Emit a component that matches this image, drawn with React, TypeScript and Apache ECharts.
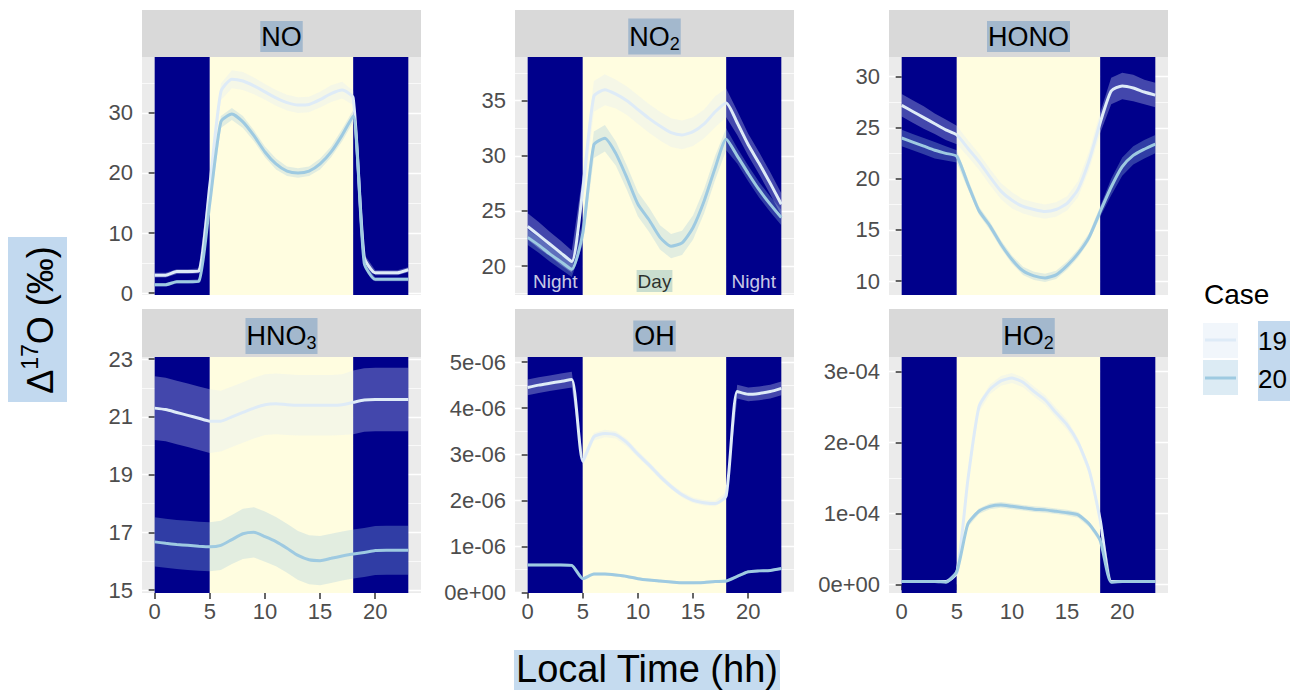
import React, { useEffect, useRef } from 'react';
import * as echarts from 'echarts';

// ---------------- data ----------------
const hours = [0, 1, 2, 3, 4, 5, 6, 7, 8, 9, 10, 11, 12, 13, 14, 15, 16, 17, 18, 19, 20, 21, 22, 23];
const xTicks = [0, 5, 10, 15, 20];
const periods: [number, number, string][] = [[0, 5, 'night'], [5, 18, 'day'], [18, 23, 'night']];
const caseNames = ['19', '20'];

const noCase19 = [3.0, 3.0, 3.6, 3.6, 3.7, 18.0, 33.5, 35.6, 35.3, 34.5, 33.5, 32.5, 31.7, 31.3, 31.4, 32.2, 33.2, 33.8, 32.5, 6.0, 3.4, 3.4, 3.4, 3.9];
const noCase20 = [1.4, 1.4, 1.9, 1.9, 2.0, 15.0, 28.5, 29.8, 28.5, 26.2, 23.5, 21.5, 20.3, 20.0, 20.3, 21.5, 23.5, 26.3, 29.5, 5.0, 2.3, 2.3, 2.3, 2.3];
const noErr19 = [0.4, 0.4, 0.4, 0.4, 0.4, 1.0, 1.4, 1.5, 1.5, 1.4, 1.3, 1.3, 1.3, 1.3, 1.3, 1.3, 1.4, 1.4, 1.2, 0.5, 0.4, 0.4, 0.4, 0.4];
const noErr20 = [0.3, 0.3, 0.3, 0.3, 0.3, 0.8, 1.0, 1.0, 1.0, 0.9, 0.9, 0.9, 0.8, 0.8, 0.8, 0.9, 0.9, 1.0, 1.0, 0.4, 0.3, 0.3, 0.3, 0.3];

const no2Case19 = [23.6, 22.8, 22.0, 21.2, 20.4, 27.0, 35.4, 36.0, 35.6, 35.0, 34.2, 33.4, 32.7, 32.1, 31.9, 32.2, 32.9, 34.0, 34.8, 33.0, 31.0, 29.3, 27.5, 25.6];
const no2Case20 = [22.6, 21.9, 21.1, 20.4, 19.7, 23.0, 31.0, 31.6, 30.2, 28.0, 25.6, 24.2, 22.6, 21.8, 22.1, 23.5, 25.9, 28.9, 31.5, 30.0, 28.4, 26.9, 25.6, 24.4];
const no2Err19 = [1.2, 1.2, 1.1, 1.1, 1.0, 1.3, 1.4, 1.4, 1.3, 1.3, 1.3, 1.3, 1.3, 1.3, 1.3, 1.3, 1.3, 1.4, 1.3, 1.1, 1.0, 1.0, 1.0, 1.0];
const no2Err20 = [0.7, 0.7, 0.7, 0.7, 0.7, 1.0, 1.2, 1.2, 1.1, 1.1, 1.1, 1.1, 1.1, 1.1, 1.1, 1.1, 1.1, 1.1, 1.0, 0.7, 0.7, 0.7, 0.7, 0.7];

const honoCase19 = [27.2, 26.6, 26.0, 25.4, 24.8, 24.3, 23.0, 21.7, 20.2, 18.8, 17.9, 17.3, 17.0, 16.8, 17.0, 17.6, 19.0, 21.8, 25.5, 28.6, 29.1, 28.9, 28.5, 28.2];
const honoCase20 = [24.0, 23.6, 23.2, 22.8, 22.5, 22.2, 19.5, 16.9, 15.4, 13.6, 12.1, 11.0, 10.5, 10.3, 10.6, 11.5, 12.7, 14.3, 16.8, 19.2, 21.2, 22.3, 22.9, 23.4];
const honoErr19 = [1.1, 1.1, 1.1, 1.0, 1.0, 0.9, 0.8, 0.8, 0.8, 0.8, 0.8, 0.7, 0.7, 0.7, 0.7, 0.7, 0.8, 0.9, 1.0, 1.3, 1.3, 1.3, 1.2, 1.2];
const honoErr20 = [0.8, 0.8, 0.8, 0.8, 0.7, 0.6, 0.5, 0.4, 0.4, 0.4, 0.4, 0.4, 0.4, 0.4, 0.4, 0.4, 0.4, 0.4, 0.5, 0.8, 0.9, 0.9, 0.9, 0.9];

const hno3Case19 = [21.3, 21.25, 21.15, 21.05, 20.95, 20.85, 20.85, 21.0, 21.15, 21.3, 21.42, 21.45, 21.42, 21.4, 21.4, 21.4, 21.4, 21.42, 21.5, 21.58, 21.6, 21.6, 21.6, 21.6];
const hno3Case20 = [16.67, 16.62, 16.58, 16.55, 16.52, 16.5, 16.55, 16.75, 16.95, 17.0, 16.85, 16.68, 16.45, 16.2, 16.05, 16.02, 16.1, 16.18, 16.25, 16.3, 16.37, 16.38, 16.38, 16.38];
const hno3Err19 = [1.1, 1.1, 1.1, 1.1, 1.1, 1.1, 1.05, 1.05, 1.05, 1.05, 1.05, 1.05, 1.05, 1.05, 1.05, 1.05, 1.05, 1.05, 1.1, 1.1, 1.1, 1.1, 1.1, 1.1];
const hno3Err20 = [0.85, 0.85, 0.85, 0.85, 0.85, 0.85, 0.85, 0.85, 0.87, 0.87, 0.87, 0.85, 0.85, 0.85, 0.85, 0.85, 0.85, 0.85, 0.85, 0.85, 0.85, 0.85, 0.85, 0.85];

const ohCase19 = [4.45e-6, 4.5e-6, 4.54e-6, 4.58e-6, 4.62e-6, 2.85e-6, 3.38e-6, 3.45e-6, 3.42e-6, 3.25e-6, 3.0e-6, 2.77e-6, 2.52e-6, 2.3e-6, 2.12e-6, 2.0e-6, 1.95e-6, 1.93e-6, 2.1e-6, 4.36e-6, 4.3e-6, 4.32e-6, 4.36e-6, 4.43e-6];
const ohCase20 = [0.6e-6, 0.6e-6, 0.6e-6, 0.6e-6, 0.59e-6, 0.3e-6, 0.4e-6, 0.4e-6, 0.38e-6, 0.35e-6, 0.3e-6, 0.27e-6, 0.25e-6, 0.23e-6, 0.21e-6, 0.21e-6, 0.22e-6, 0.24e-6, 0.25e-6, 0.35e-6, 0.45e-6, 0.47e-6, 0.48e-6, 0.52e-6];
const ohErr19 = [0.17e-6, 0.17e-6, 0.17e-6, 0.17e-6, 0.17e-6, 0.1e-6, 0.08e-6, 0.08e-6, 0.08e-6, 0.08e-6, 0.07e-6, 0.07e-6, 0.07e-6, 0.06e-6, 0.06e-6, 0.06e-6, 0.06e-6, 0.06e-6, 0.08e-6, 0.15e-6, 0.15e-6, 0.15e-6, 0.15e-6, 0.15e-6];
const ohErr20 = [0.03e-6, 0.03e-6, 0.03e-6, 0.03e-6, 0.03e-6, 0.03e-6, 0.03e-6, 0.03e-6, 0.03e-6, 0.03e-6, 0.03e-6, 0.03e-6, 0.03e-6, 0.03e-6, 0.03e-6, 0.03e-6, 0.03e-6, 0.03e-6, 0.03e-6, 0.03e-6, 0.03e-6, 0.03e-6, 0.03e-6, 0.03e-6];

const ho2Case19 = [0.04e-4, 0.04e-4, 0.04e-4, 0.04e-4, 0.04e-4, 0.16e-4, 1.47e-4, 2.5e-4, 2.75e-4, 2.87e-4, 2.91e-4, 2.85e-4, 2.72e-4, 2.6e-4, 2.42e-4, 2.25e-4, 2.0e-4, 1.61e-4, 0.91e-4, 0.04e-4, 0.04e-4, 0.04e-4, 0.04e-4, 0.04e-4];
const ho2Case20 = [0.04e-4, 0.04e-4, 0.04e-4, 0.04e-4, 0.03e-4, 0.18e-4, 0.85e-4, 1.03e-4, 1.1e-4, 1.12e-4, 1.1e-4, 1.08e-4, 1.06e-4, 1.05e-4, 1.03e-4, 1.01e-4, 0.98e-4, 0.85e-4, 0.62e-4, 0.03e-4, 0.04e-4, 0.04e-4, 0.04e-4, 0.04e-4];
const ho2Err19 = [0.01e-4, 0.01e-4, 0.01e-4, 0.01e-4, 0.01e-4, 0.03e-4, 0.06e-4, 0.07e-4, 0.07e-4, 0.07e-4, 0.07e-4, 0.07e-4, 0.07e-4, 0.07e-4, 0.07e-4, 0.07e-4, 0.06e-4, 0.06e-4, 0.05e-4, 0.01e-4, 0.01e-4, 0.01e-4, 0.01e-4, 0.01e-4];
const ho2Err20 = [0.01e-4, 0.01e-4, 0.01e-4, 0.01e-4, 0.01e-4, 0.02e-4, 0.04e-4, 0.04e-4, 0.04e-4, 0.04e-4, 0.04e-4, 0.04e-4, 0.04e-4, 0.04e-4, 0.04e-4, 0.04e-4, 0.04e-4, 0.04e-4, 0.03e-4, 0.01e-4, 0.01e-4, 0.01e-4, 0.01e-4, 0.01e-4];

const noTicks = [0, 10, 20, 30];
const noMinor = [5, 15, 25, 35];
const no2Ticks = [20, 25, 30, 35];
const no2Minor = [17.5, 22.5, 27.5, 32.5, 37.5];
const honoTicks = [10, 15, 20, 25, 30];
const honoMinor = [12.5, 17.5, 22.5, 27.5];
const hno3Ticks = [15, 17, 19, 21, 23];
const hno3Minor = [16, 18, 20, 22];
const ohTicks = [0, 1e-6, 2e-6, 3e-6, 4e-6, 5e-6];
const ohMinor = [0.5e-6, 1.5e-6, 2.5e-6, 3.5e-6, 4.5e-6];
const ho2Ticks = [0, 1e-4, 2e-4, 3e-4];
const ho2Minor = [0.5e-4, 1.5e-4, 2.5e-4];

const panelTitles = ['NO', '{n|NO}{s|2}', 'HONO', '{n|HNO}{s|3}', 'OH', '{n|HO}{s|2}'];
const periodLabels: [number, number, string][] = [[2.5, 18.64, 'Night'], [11.5, 18.64, 'Day'], [20.5, 18.64, 'Night']];

// ---------------- styling / layout ----------------
const FONT = "'Liberation Sans', Arial, Helvetica, sans-serif";
const NIGHT = '#00008B';
const DAY = '#FFFDE0';
const C19 = '#DEEBF7';
const C20 = '#9ECAE1';
const colLeft = [142, 515, 889];
const colW = 279;
const rowTop = [57, 357];
const rowH = [238, 236];
const stripTop = [10, 309];
const stripH = [47, 48];

function sci(v: number): string {
  if (v === 0) return '0e+00';
  const s = v.toExponential(0);
  const [m, e] = s.split('e');
  const n = parseInt(e, 10);
  return m + 'e' + (n < 0 ? '-' : '+') + String(Math.abs(n)).padStart(2, '0');
}

const panels = [
  { m19: noCase19, m20: noCase20, e19: noErr19, e20: noErr20, min: -0.3, max: 39.3, ticks: noTicks, minor: noMinor, sci: false },
  { m19: no2Case19, m20: no2Case20, e19: no2Err19, e20: no2Err20, min: 17.37, max: 38.97, ticks: no2Ticks, minor: no2Minor, sci: false },
  { m19: honoCase19, m20: honoCase20, e19: honoErr19, e20: honoErr20, min: 8.63, max: 31.93, ticks: honoTicks, minor: honoMinor, sci: false },
  { m19: hno3Case19, m20: hno3Case20, e19: hno3Err19, e20: hno3Err20, min: 14.9, max: 23.07, ticks: hno3Ticks, minor: hno3Minor, sci: false },
  { m19: ohCase19, m20: ohCase20, e19: ohErr19, e20: ohErr20, min: -0.01e-6, max: 5.11e-6, ticks: ohTicks, minor: ohMinor, sci: true },
  { m19: ho2Case19, m20: ho2Case20, e19: ho2Err19, e20: ho2Err20, min: -0.123e-4, max: 3.207e-4, ticks: ho2Ticks, minor: ho2Minor, sci: true },
];

function ribbonRender(color: string) {
  return (params: any, api: any) => {
    if (params.dataIndexInside !== 0) return null;
    const n = params.dataInsideLength;
    const top: number[][] = [];
    const bottom: number[][] = [];
    for (let k = 0; k < n; k++) {
      const x = api.value(0, k);
      top.push(api.coord([x, api.value(2, k)]));
      bottom.push(api.coord([x, api.value(1, k)]));
    }
    const points = top.concat(bottom.reverse());
    return {
      type: 'polygon',
      shape: { points },
      style: { fill: color, opacity: 0.3 },
      silent: true,
    };
  };
}

function buildOption() {
  const grid: any[] = [];
  const xAxis: any[] = [];
  const yAxis: any[] = [];
  const series: any[] = [];
  const graphic: any[] = [];
  const SMOOTH = 0.2;

  panels.forEach((p, i) => {
    const r = Math.floor(i / 3);
    const c = i % 3;
    grid.push({
      left: colLeft[c], top: rowTop[r], width: colW, height: rowH[r],
      show: true, backgroundColor: '#EBEBEB', borderWidth: 0,
    });
    xAxis.push({
      gridIndex: i, type: 'value', min: -1.15, max: 24.15,
      axisLine: { show: false },
      splitLine: { show: false },
      axisTick: { show: r === 1, length: 6, customValues: xTicks, lineStyle: { color: '#333333', width: 1.5 } },
      axisLabel: { show: r === 1, customValues: xTicks, color: '#4D4D4D', fontSize: 22, fontFamily: FONT, margin: 7 },
    });
    yAxis.push({
      gridIndex: i, type: 'value', min: p.min, max: p.max, position: 'left',
      axisLine: { show: false },
      axisTick: { show: true, length: 6, customValues: p.ticks, lineStyle: { color: '#333333', width: 1.5 } },
      axisLabel: {
        customValues: p.ticks, color: '#4D4D4D', fontSize: 22, fontFamily: FONT, margin: 9,
        formatter: p.sci ? (v: number) => sci(v) : (v: number) => String(v),
      },
      splitLine: { show: true, lineStyle: { color: '#FFFFFF', width: 1.4 } },
    });

    // shading carrier
    series.push({
      type: 'line', xAxisIndex: i, yAxisIndex: i,
      data: hours.map((h, k) => [h, p.m20[k]]),
      symbol: 'none', lineStyle: { opacity: 0, width: 0 }, silent: true, z: 1,
      markArea: {
        silent: true,
        data: periods.map(([a, b, kind]) => [
          { xAxis: a, itemStyle: { color: kind === 'night' ? NIGHT : DAY } },
          { xAxis: b },
        ]),
      },
    });
    // ribbons
    [[p.m19, p.e19, C19], [p.m20, p.e20, C20]].forEach(([m, e, col]: any) => {
      series.push({
        type: 'custom', xAxisIndex: i, yAxisIndex: i, z: 2, silent: true,
        data: hours.map((h, k) => [h, m[k] - e[k], m[k] + e[k]]),
        encode: { x: 0, y: [1, 2] },
        renderItem: ribbonRender(col),
      });
    });
    series.push({
      type: 'line', name: caseNames[0], xAxisIndex: i, yAxisIndex: i,
      data: hours.map((h, k) => [h, p.m19[k]]),
      symbol: 'none', smooth: SMOOTH, lineStyle: { color: C19, width: 3 }, silent: true, z: 3,
    });
    series.push({
      type: 'line', name: caseNames[1], xAxisIndex: i, yAxisIndex: i,
      data: hours.map((h, k) => [h, p.m20[k]]),
      symbol: 'none', smooth: SMOOTH, lineStyle: { color: C20, width: 3 }, silent: true, z: 3,
    });

    // strip
    graphic.push({
      type: 'rect', silent: true, z: 10,
      shape: { x: colLeft[c], y: stripTop[r], width: colW, height: stripH[r] },
      style: { fill: '#D9D9D9' },
    });
    graphic.push({
      type: 'text', silent: true, z: 11,
      x: colLeft[c] + colW / 2, y: stripTop[r] + stripH[r] / 2 + 3,
      style: {
        text: panelTitles[i], fill: '#000', fontSize: 27, fontFamily: FONT,
        textAlign: 'center', textVerticalAlign: 'middle',
        backgroundColor: '#A3B8CD', padding: [2, 1, 2, 1],
        rich: {
          n: { fontSize: 27, fontFamily: FONT, fill: '#000' },
          s: { fontSize: 18, fontFamily: FONT, fill: '#000', padding: [14, 0, 0, 0] },
        },
      },
    });
  });

  // minor grid axes
  panels.forEach((p, i) => {
    yAxis.push({
      gridIndex: i, type: 'value', min: p.min, max: p.max, position: 'left',
      axisLine: { show: false },
      axisTick: { show: false, customValues: p.minor },
      axisLabel: { show: false, customValues: p.minor },
      splitLine: { show: true, lineStyle: { color: '#FFFFFF', width: 0.7 } },
    });
  });

  // Night / Day labels on NO2 panel
  series.push({
    type: 'scatter', xAxisIndex: 1, yAxisIndex: 1, symbolSize: 0, silent: true, z: 5,
    data: periodLabels.map(([x, y, t]) => ({
      value: [x, y], name: t,
      label: t === 'Day'
        ? { color: '#000', backgroundColor: '#BDD6CA', padding: [2, 1, 1, 1] }
        : { color: '#FFFFFF' },
    })),
    label: { show: true, position: 'inside', formatter: '{b}', fontSize: 19, fontFamily: FONT },
  });

  // axis titles
  graphic.push({ type: 'rect', silent: true, shape: { x: 8, y: 237, width: 59, height: 165 }, style: { fill: '#C2D9EF' } });
  graphic.push({
    type: 'text', silent: true, x: 40, y: 320, rotation: Math.PI / 2,
    style: {
      text: '{a|Δ}{b|17}{a|O (‰)}', textAlign: 'center', textVerticalAlign: 'middle',
      rich: {
        a: { fontSize: 36, fontFamily: FONT, fill: '#000' },
        b: { fontSize: 23, fontFamily: FONT, fill: '#000', padding: [0, 0, 20, 0] },
      },
    },
  });
  graphic.push({ type: 'rect', silent: true, shape: { x: 514, y: 650, width: 266, height: 40 }, style: { fill: '#C5DBEF' } });
  graphic.push({
    type: 'text', silent: true, x: 647, y: 669,
    style: { text: 'Local Time (hh)', fontSize: 38, fontFamily: FONT, fill: '#000', textAlign: 'center', textVerticalAlign: 'middle' },
  });

  // legend
  graphic.push({
    type: 'text', silent: true, x: 1204, y: 294,
    style: { text: 'Case', fontSize: 28, fontFamily: FONT, fill: '#000', textAlign: 'left', textVerticalAlign: 'middle' },
  });
  graphic.push({ type: 'rect', silent: true, shape: { x: 1203, y: 323, width: 35, height: 35 }, style: { fill: '#F1F6FB' } });
  graphic.push({ type: 'rect', silent: true, shape: { x: 1203, y: 360, width: 35, height: 35 }, style: { fill: '#DCEBF4' } });
  graphic.push({ type: 'line', silent: true, shape: { x1: 1205, y1: 340, x2: 1236, y2: 340 }, style: { stroke: C19, lineWidth: 3 } });
  graphic.push({ type: 'line', silent: true, shape: { x1: 1205, y1: 378, x2: 1236, y2: 378 }, style: { stroke: C20, lineWidth: 3 } });
  graphic.push({ type: 'rect', silent: true, shape: { x: 1258, y: 321, width: 32, height: 80 }, style: { fill: '#C3D9EE' } });
  caseNames.forEach((n, k) => {
    graphic.push({
      type: 'text', silent: true, x: 1258, y: 341 + k * 38,
      style: { text: n, fontSize: 26, fontFamily: FONT, fill: '#000', textAlign: 'left', textVerticalAlign: 'middle' },
    });
  });

  return {
    animation: false,
    backgroundColor: '#FFFFFF',
    grid, xAxis, yAxis, series, graphic,
  };
}

export default function App() {
  const ref = useRef<HTMLDivElement>(null);
  useEffect(() => {
    if (!ref.current) return;
    const chart = echarts.init(ref.current, null, { renderer: 'svg' });
    chart.setOption(buildOption() as any);
    return () => chart.dispose();
  }, []);
  return (
    <div
      ref={ref}
      style={{ position: 'fixed', left: 0, top: 0, width: 1290, height: 690, background: '#fff' }}
    />
  );
}
